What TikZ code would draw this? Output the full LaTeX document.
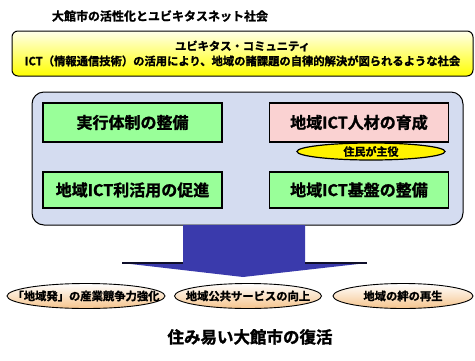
\documentclass[tikz,border=0pt]{standalone}
\usepackage{fontspec}
\setmainfont{Noto Sans CJK JP}[BoldFont={Noto Sans CJK JP Bold}, BoldFeatures={FakeBold=1.5}]
\usepackage{tikz}
\usetikzlibrary{shapes, backgrounds}
\usetikzlibrary{positioning}

\definecolor{panelblue}{RGB}{212,220,240}
\definecolor{measuregreen}{RGB}{153,255,153}
\definecolor{measurepink}{RGB}{250,210,210}
\definecolor{goalpeach}{RGB}{245,196,140}
\definecolor{arrowblue}{RGB}{58,58,172}

\begin{document}
\begin{tikzpicture}[x=1pt, y=-1pt,
			measure/.style={draw, rectangle, line width=1.3pt, fill=measuregreen, minimum width=179pt, inner sep=0pt, font=\bfseries\fontsize{16}{18}\selectfont},
			goal/.style={draw, ellipse, line width=0.9pt, top color=white, bottom color=goalpeach, minimum height=25pt, inner sep=0pt},
			goaltext/.style={inner sep=0pt, font=\bfseries\fontsize{11.3}{13}\selectfont},
			every text node part/.style={align=center}]
			\useasboundingbox (0,0) rectangle (475,360);
			
			\node[font=\bfseries\fontsize{12}{14}\selectfont](title) at (160, 16) {大館市の活性化とユビキタスネット社会};
			
			\node[draw, rounded corners=6pt, line width=1pt, top color=yellow!8, bottom color=yellow, minimum width=461pt, minimum height=45pt, inner sep=0pt, font=\bfseries\fontsize{11.3}{15}\selectfont](community) at (242.5, 53.5) {ユビキタス・コミュニティ\\ICT（情報通信技術）の活用により、地域の諸課題の自律的解決が図られるような社会};
			
			\node[draw, rounded corners=12pt, line width=1pt, fill=panelblue, minimum width=431pt, minimum height=133pt](panel) at (247.5, 158.5) {};
			
			\node[measure, minimum height=39pt](system) at (132.5, 122.5) {実行体制の整備};
			\node[measure, minimum height=39pt, fill=measurepink](people) at (359, 122.5) {地域ICT人材の育成};
			\node[measure, minimum height=36pt](usage) at (132.5, 190) {地域ICT利活用の促進};
			\node[measure, minimum height=36pt](infra) at (359, 190) {地域ICT基盤の整備};
			
			\node[draw, ellipse, line width=1.2pt, fill=yellow, minimum width=148pt, minimum height=17pt, inner sep=0pt, font=\bfseries\fontsize{11}{12}\selectfont](lead) at (371, 151.5) {住民が主役};
			
			\fill[arrowblue] (183, 225) -- (305, 225) -- (305, 263) -- (367, 263) -- (243, 277) -- (122, 263) -- (183, 263) -- cycle;
			\draw[line width=1.8pt, arrowblue!25!black] (122, 263) -- (183, 263) (305, 263) -- (367, 263);
			
			\node[goal, minimum width=158pt](industry) at (86, 296) {};
			\node[goaltext](industrytext) at (industry) {「地域発」の産業競争力強化};
			\node[goal, minimum width=147pt](service) at (248, 296) {};
			\node[goaltext](servicetext) at (service) {地域公共サービスの向上};
			\node[goal, minimum width=140pt](bonds) at (403, 296) {};
			\node[goaltext](bondstext) at (bonds) {地域の絆の再生};
			
			\node[font=\bfseries\fontsize{16.5}{18}\selectfont](revival) at (250, 337) {住み易い大館市の復活};
			\end{tikzpicture}
\end{document}
